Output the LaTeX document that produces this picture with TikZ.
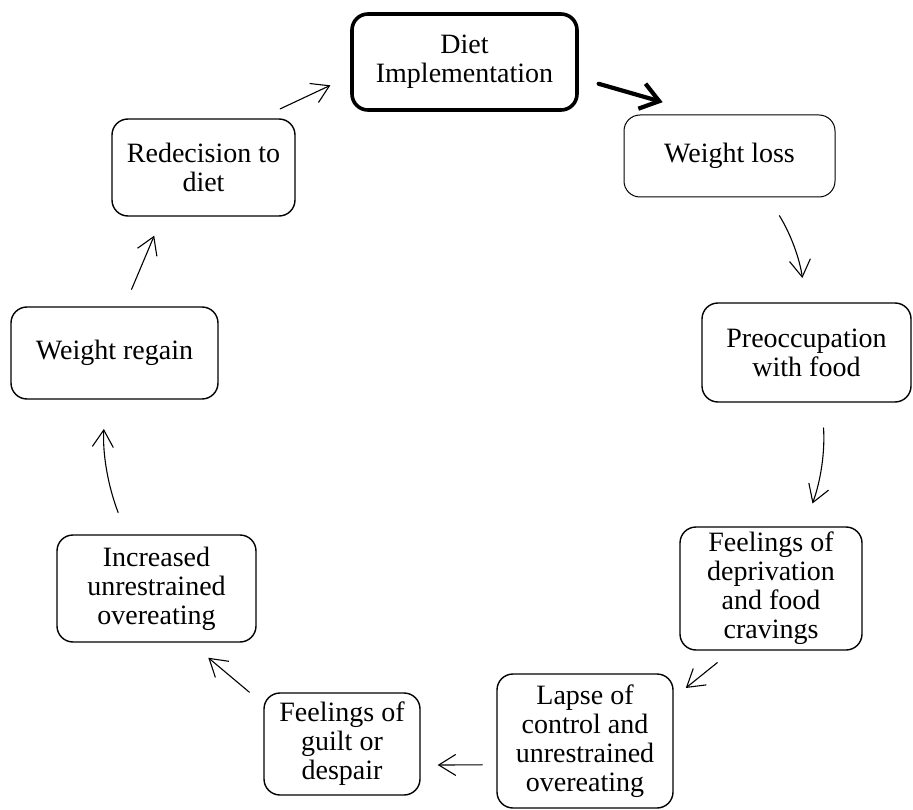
\documentclass[tikz,border=0pt]{standalone}
\usepackage{fontspec}
\setmainfont{Liberation Serif}
\usetikzlibrary{arrows.meta}

\begin{document}
\begin{tikzpicture}[x=1pt,y=-1pt,
		box/.style={rectangle,draw,rounded corners=16pt,line width=1.4pt,align=center,inner sep=0pt,font=\fontsize{28}{29}\selectfont},
		link/.style={-{Straight Barb[length=17pt,width=21pt]},line width=1.1pt,line cap=round}]
			\useasboundingbox (0,0) rectangle (913,810);
			
			\node[box,line width=3.6pt,minimum width=225pt,minimum height=96pt] (diet) at (464.5,62) {Diet\\Implementation};
			\node[box,line width=1pt,minimum width=211pt,minimum height=82pt] (loss) at (729.5,156) {Weight loss};
			\node[box,minimum width=209pt,minimum height=99pt] (preocc) at (806.5,352.5) {Preoccupation\\with food};
			\node[box,minimum width=182pt,minimum height=123pt] (depriv) at (771,588.5) {Feelings of\\deprivation\\and food\\cravings};
			\node[box,minimum width=176pt,minimum height=134pt] (lapse) at (585,741) {Lapse of\\control and\\unrestrained\\overeating};
			\node[box,minimum width=156pt,minimum height=102pt] (guilt) at (342,744) {Feelings of\\guilt or\\despair};
			\node[box,minimum width=199pt,minimum height=107pt] (incr) at (156.5,588.5) {Increased\\unrestrained\\overeating};
			\node[box,minimum width=207pt,minimum height=92pt] (regain) at (114.5,353) {Weight regain};
			\node[box,minimum width=183pt,minimum height=97pt] (redec) at (203.5,167.5) {Redecision to\\diet};
			
			\path[link,draw,line width=4.2pt,-{Straight Barb[length=18pt,width=26pt]},shorten <=20.7pt,shorten >=44.6pt] (diet.-8.8) -- (loss.120.9);
			\path[link,draw,shorten <=21.3pt,shorten >=24.5pt] (loss.-47.8) to[bend left=12] (preocc.91.3);
			\path[link,draw,shorten <=25.3pt,shorten >=24.3pt] (preocc.-73.2) to[bend left=12] (depriv.62.1);
			\path[link,draw,shorten <=19pt,shorten >=15.5pt] (depriv.-122.5) -- (lapse.26.2);
			\path[link,draw,shorten <=14pt,shorten >=17pt] (lapse.195.3) -- (guilt.-15.1);
			\path[link,draw,shorten <=18.2pt,shorten >=23.4pt] (guilt.153.3) -- (incr.-58.6);
			\path[link,draw,shorten <=23.3pt,shorten >=29.3pt] (incr.119.2) to[bend left=12] (regain.-101.1);
			\path[link,draw,shorten <=18.4pt,shorten >=20.6pt] (regain.78.5) -- (redec.-130.6);
			\path[link,draw,shorten <=22.2pt,shorten >=21.9pt] (redec.41.8) -- (diet.187.6);
		\end{tikzpicture}
\end{document}
